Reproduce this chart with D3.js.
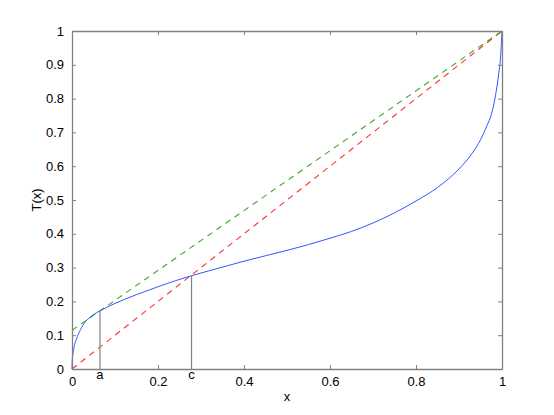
<!DOCTYPE html>
<html>
<head>
<meta charset="utf-8">
<script src="https://cdn.jsdelivr.net/npm/d3@7"></script>
<style>
  body { margin: 0; background: #fff; }
  text { font-family: "Liberation Sans", Arial, sans-serif; }
</style>
</head>
<body>
<div id="chart"><svg></svg></div>
<script>
// curve T(x)
var curveX = [0, 0.0005, 0.002, 0.005, 0.01, 0.02, 0.03, 0.04, 0.05, 0.065, 0.08, 0.1, 0.12, 0.15, 0.18, 0.21, 0.24, 0.278, 0.32, 0.36, 0.4, 0.45, 0.5, 0.55, 0.6, 0.65, 0.7, 0.75, 0.8, 0.85, 0.9, 0.93, 0.95, 0.965, 0.975, 0.985, 0.992, 0.997, 1];
var curveT = [0, 0.024, 0.044, 0.066, 0.087, 0.117, 0.138, 0.151, 0.161, 0.172, 0.182, 0.194, 0.205, 0.22, 0.234, 0.248, 0.261, 0.276, 0.291, 0.305, 0.319, 0.335, 0.351, 0.368, 0.387, 0.407, 0.432, 0.462, 0.497, 0.537, 0.592, 0.637, 0.678, 0.72, 0.752, 0.81, 0.87, 0.93, 1];

// dashed lines: tangent through a (green) and diagonal (red)
var tangentX = [0, 1], tangentT = [0.1145, 1];
var diagX = [0, 1], diagT = [0, 1];

// marked points a and c
var markNames = ["a", "c"];
var markX = [0.065, 0.278];
var markT = [0.172, 0.276];

var xTicks = [0, 0.2, 0.4, 0.6, 0.8, 1];
var xTickLabels = ["0", "0.2", "0.4", "0.6", "0.8", "1"];
var yTicks = [0, 0.1, 0.2, 0.3, 0.4, 0.5, 0.6, 0.7, 0.8, 0.9, 1];
var yTickLabels = ["0", "0.1", "0.2", "0.3", "0.4", "0.5", "0.6", "0.7", "0.8", "0.9", "1"];

var width = 554, height = 415;
var plotLeft = 72, plotRight = 502, plotTop = 31, plotBottom = 369;

var svg = d3.select("#chart svg").attr("width", width).attr("height", height);

var x = d3.scaleLinear().domain([0, 1]).range([plotLeft, plotRight]);
var y = d3.scaleLinear().domain([0, 1]).range([plotBottom, plotTop]);

var axisColor = "#808080";
var fontSize = "13px";

function zip(a, b) { return a.map(function(v, i) { return [v, b[i]]; }); }

var line = d3.line()
    .x(function(d) { return x(d[0]); })
    .y(function(d) { return y(d[1]); });

// dashed lines
svg.append("path")
    .attr("d", line(zip(diagX, diagT)))
    .attr("fill", "none")
    .attr("stroke", "#ff3030")
    .attr("stroke-width", 1.1)
    .attr("stroke-dasharray", "6,5");

svg.append("path")
    .attr("d", line(zip(tangentX, tangentT)))
    .attr("fill", "none")
    .attr("stroke", "#40a828")
    .attr("stroke-width", 1.1)
    .attr("stroke-dasharray", "6,5");

// the curve
svg.append("path")
    .attr("d", line.curve(d3.curveMonotoneX)(zip(curveX, curveT)))
    .attr("fill", "none")
    .attr("stroke", "#3355ff")
    .attr("stroke-width", 1);

// drop lines for a and c
svg.selectAll(".drop")
    .data(markX)
    .enter().append("line")
        .attr("class", "drop")
        .attr("x1", function(d) { return x(d); })
        .attr("x2", function(d) { return x(d); })
        .attr("y1", y(0))
        .attr("y2", function(d, i) { return y(markT[i]); })
        .attr("stroke", "#808080")
        .attr("stroke-width", 1.2);

svg.selectAll(".markLabel")
    .data(markNames)
    .enter().append("text")
        .attr("class", "markLabel")
        .attr("x", function(d, i) { return x(markX[i]); })
        .attr("y", 379)
        .attr("text-anchor", "middle")
        .style("font-size", fontSize)
        .text(function(d) { return d; });

// axes, ticks inward like matlab
function styleAxis(g) {
    g.select(".domain").attr("stroke", axisColor).attr("stroke-width", 1.3);
    g.selectAll(".tick line").attr("stroke", axisColor);
    g.selectAll(".tick text").style("font-size", fontSize).attr("fill", "#000")
        .style("font-family", "'Liberation Sans', Arial, sans-serif");
}

svg.append("g")
    .attr("transform", "translate(0," + plotBottom + ")")
    .call(d3.axisBottom(x).tickValues(xTicks)
        .tickFormat(function(d, i) { return xTickLabels[i]; })
        .tickSizeInner(-4).tickSizeOuter(0).tickPadding(8))
    .call(styleAxis);

svg.append("g")
    .attr("transform", "translate(0," + plotTop + ")")
    .call(d3.axisTop(x).tickValues(xTicks).tickFormat("")
        .tickSizeInner(-4).tickSizeOuter(0))
    .call(styleAxis);

svg.append("g")
    .attr("transform", "translate(" + plotLeft + ",0)")
    .call(d3.axisLeft(y).tickValues(yTicks)
        .tickFormat(function(d, i) { return yTickLabels[i]; })
        .tickSizeInner(-4).tickSizeOuter(0).tickPadding(8))
    .call(styleAxis);

svg.append("g")
    .attr("transform", "translate(" + plotRight + ",0)")
    .call(d3.axisRight(y).tickValues(yTicks).tickFormat("")
        .tickSizeInner(-4).tickSizeOuter(0))
    .call(styleAxis);

// axis titles
svg.append("text")
    .attr("x", (plotLeft + plotRight) / 2)
    .attr("y", 401)
    .attr("text-anchor", "middle")
    .style("font-size", fontSize)
    .text("x");

svg.append("text")
    .attr("transform", "translate(41," + (plotTop + plotBottom) / 2 + ") rotate(-90)")
    .attr("text-anchor", "middle")
    .style("font-size", fontSize)
    .text("T(x)");
</script>
</body>
</html>
